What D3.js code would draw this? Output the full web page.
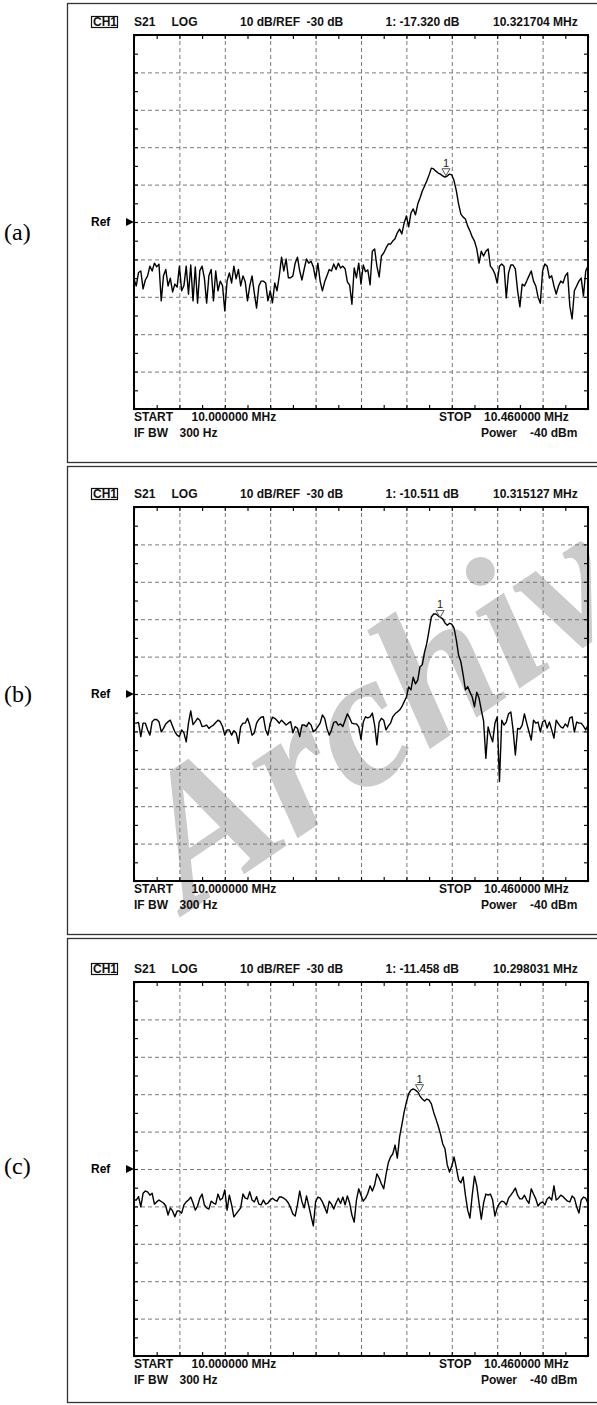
<!DOCTYPE html>
<html>
<head>
<meta charset="utf-8">
<script src="https://cdn.jsdelivr.net/npm/d3@7"></script>
<style>
  body { margin: 0; background: #fff; }
  svg text { font-family: "Liberation Sans", Arial, sans-serif; }
</style>
</head>
<body>
<div id="chart"></div>
<script>
var svgWidth = 597;
var svgHeight = 1405;

// sweep settings (same for all three panels)
var startMHz = 10.0, stopMHz = 10.46, nPoints = 201;
var refDb = -30, dbPerDiv = 10;

var panelLabels = ["(a)", "(b)", "(c)"];
var markerReadouts = ["1: -17.320 dB", "1: -10.511 dB", "1: -11.458 dB"];
var markerFreqTexts = ["10.321704 MHz", "10.315127 MHz", "10.298031 MHz"];
// where the marker triangles sit on the screen
var markerFreqs = [10.3161, 10.3101, 10.2893];
var markerDbs = [-17.9, -9.8, -9.6];

// S21 traces in dB, 201 sweep points each
var traceA = [
  -45.2, -47.1, -43.5, -43.1, -47.9, -45.5, -44.4, -41.8, -43.1, -41.0,
  -42.0, -41.3, -51.1, -44.4, -42.7, -47.1, -45.0, -48.7, -46.6, -47.4,
  -41.8, -48.4, -47.0, -41.8, -49.3, -41.5, -51.1, -42.0, -51.7, -43.0,
  -41.8, -45.0, -51.7, -44.4, -42.7, -51.1, -43.1, -48.4, -45.8, -47.0,
  -53.8, -45.8, -43.6, -46.3, -41.8, -45.2, -42.7, -47.1, -44.4, -46.0,
  -51.1, -47.1, -44.4, -49.0, -53.0, -47.1, -45.8, -45.8, -46.3, -51.1,
  -48.4, -51.6, -46.3, -48.4, -44.4, -39.4, -43.1, -39.9, -44.9, -44.9,
  -44.4, -41.0, -39.4, -43.1, -45.5, -42.5, -39.9, -41.0, -40.5, -42.0,
  -45.2, -41.0, -45.8, -48.4, -46.0, -44.4, -42.7, -43.1, -41.2, -42.7,
  -41.0, -42.3, -41.8, -42.5, -46.0, -46.9, -52.0, -42.3, -44.9, -41.0,
  -46.6, -41.5, -43.3, -42.8, -46.8, -37.8, -37.2, -41.8, -44.7, -39.1,
  -38.3, -37.0, -35.9, -35.9, -35.1, -34.5, -32.9, -31.9, -33.2, -30.3,
  -28.4, -31.3, -27.6, -26.5, -28.1, -25.2, -23.6, -21.7, -20.4, -19.0,
  -17.4, -15.6, -15.8, -16.4, -16.9, -17.2, -17.7, -18.0, -17.7, -17.2,
  -17.4, -19.0, -21.7, -25.2, -27.9, -28.7, -29.2, -31.1, -32.4, -34.0,
  -35.1, -37.2, -41.0, -37.8, -39.1, -37.8, -37.2, -41.8, -42.6, -43.9,
  -46.3, -41.8, -41.2, -41.8, -50.3, -43.6, -41.5, -41.5, -42.6, -48.4,
  -52.7, -46.6, -47.1, -45.8, -44.4, -43.1, -45.8, -47.1, -50.1, -51.7,
  -43.1, -41.2, -41.8, -45.0, -44.4, -47.1, -49.3, -47.1, -45.8, -46.3,
  -44.4, -43.6, -52.5, -55.9, -48.4, -47.1, -45.8, -45.0, -49.8, -43.1, -41.8
];

var traceB = [
  -37.8, -37.8, -37.6, -41.4, -37.8, -37.8, -39.6, -41.0, -37.4, -36.8,
  -36.8, -37.4, -40.1, -39.2, -38.0, -37.4, -37.0, -38.6, -40.1, -41.0,
  -41.4, -39.6, -40.4, -42.8, -37.8, -34.5, -38.2, -37.4, -36.5, -37.0,
  -38.7, -38.6, -38.3, -39.2, -38.7, -38.3, -37.6, -37.0, -37.4, -38.7,
  -41.0, -39.6, -39.6, -41.0, -39.8, -40.4, -43.2, -38.7, -37.8, -37.8,
  -36.5, -38.3, -41.0, -40.4, -37.8, -36.8, -36.2, -36.1, -39.6, -41.0,
  -37.8, -36.2, -36.5, -37.1, -37.8, -37.0, -37.6, -38.3, -37.8, -37.4,
  -40.4, -38.7, -39.2, -41.4, -38.3, -38.3, -38.7, -37.6, -38.3, -40.1,
  -39.6, -38.7, -37.8, -35.6, -36.5, -39.2, -41.0, -39.6, -37.6, -37.4,
  -38.3, -38.0, -38.7, -37.0, -35.3, -36.4, -37.8, -38.0, -38.0, -38.8,
  -42.1, -37.5, -36.1, -36.4, -36.1, -35.1, -38.3, -43.6, -37.5, -36.5,
  -37.0, -39.6, -38.6, -37.8, -36.1, -35.3, -34.8, -34.3, -33.4, -32.1,
  -30.8, -28.1, -28.9, -25.5, -27.3, -26.3, -22.7, -22.2, -18.8, -16.4,
  -12.9, -9.4, -8.6, -8.6, -9.1, -9.5, -9.9, -11.0, -11.6, -11.1,
  -11.3, -12.4, -15.6, -19.6, -21.4, -24.9, -28.9, -28.0, -29.5, -30.8,
  -33.4, -29.5, -31.1, -34.3, -37.2, -47.2, -38.8, -41.0, -42.8, -37.8,
  -36.1, -53.4, -37.0, -38.3, -37.5, -35.3, -34.8, -39.6, -46.3, -39.2,
  -39.4, -38.3, -35.3, -37.8, -40.1, -42.3, -37.0, -37.8, -37.5, -40.1,
  -37.5, -37.0, -39.1, -37.5, -39.6, -41.8, -37.0, -38.0, -38.8, -39.1,
  -38.0, -38.8, -36.4, -36.1, -40.2, -37.5, -37.8, -37.8, -38.6, -39.6, -38.3
];

var traceC = [
  -38.3, -38.3, -37.4, -40.1, -36.5, -35.9, -36.1, -37.0, -36.5, -39.4,
  -38.8, -38.3, -38.7, -39.1, -39.9, -42.3, -40.4, -41.2, -42.8, -41.2,
  -41.2, -41.8, -39.6, -38.8, -38.3, -37.5, -39.1, -41.0, -39.9, -37.8,
  -36.7, -39.6, -40.4, -40.7, -38.6, -39.1, -39.4, -36.7, -38.3, -37.8,
  -35.6, -41.0, -37.0, -39.6, -42.8, -42.0, -41.2, -40.4, -36.7, -37.8,
  -38.0, -36.1, -38.3, -38.8, -37.4, -39.4, -39.6, -38.3, -39.4, -39.1,
  -38.3, -37.8, -38.3, -38.6, -37.5, -37.5, -37.8, -38.3, -39.1, -40.4,
  -42.0, -42.6, -39.6, -35.9, -38.8, -40.4, -37.2, -39.9, -42.6, -45.2,
  -38.8, -37.5, -37.8, -38.8, -40.2, -41.8, -38.6, -39.4, -40.7, -39.1,
  -37.8, -39.2, -37.5, -39.6, -37.2, -39.1, -42.3, -44.2, -38.3, -35.3,
  -37.0, -38.6, -37.8, -36.5, -34.5, -35.9, -34.3, -31.3, -32.4, -34.0,
  -35.3, -31.6, -28.4, -26.8, -26.0, -23.6, -27.1, -21.4, -18.2, -14.8,
  -12.1, -9.9, -8.9, -8.6, -8.9, -9.4, -10.5, -11.3, -11.8, -11.3,
  -11.6, -12.6, -14.8, -16.6, -18.5, -20.6, -23.3, -24.6, -28.9, -30.8,
  -29.2, -26.8, -29.7, -32.9, -33.7, -32.1, -37.0, -41.0, -43.1, -37.0,
  -31.9, -34.5, -39.1, -43.4, -39.1, -36.7, -37.0, -36.7, -38.3, -42.6,
  -40.4, -39.2, -38.6, -38.8, -39.6, -37.8, -37.0, -36.1, -35.1, -37.0,
  -38.0, -38.0, -37.0, -38.3, -39.2, -35.3, -36.7, -38.0, -39.9, -39.1,
  -38.8, -39.6, -38.0, -37.5, -38.3, -34.5, -38.3, -37.8, -37.0, -37.4,
  -38.0, -38.6, -38.8, -37.2, -37.8, -40.1, -41.8, -38.3, -37.5, -37.8, -39.2
];

var traces = [traceA, traceB, traceC];

// frequency of each sweep point
var freqs = d3.range(nPoints).map(i => startMHz + i * (stopMHz - startMHz) / (nPoints - 1));

// layout
var plotLeft = 134, plotRight = 588, plotHeight = 374;
var panelTops = [35, 507, 982];
var boxTops = [3, 466, 938];
var boxBottoms = [462, 934, 1402];
var labelYs = [240, 702, 1174];

var svg = d3.select("#chart")
  .append("svg")
  .attr("width", svgWidth)
  .attr("height", svgHeight);

// faint watermark behind the screens
svg.append("text")
  .attr("transform", "translate(188,912) rotate(-34)")
  .style("font-family", "'Liberation Serif', 'Times New Roman', serif")
  .style("font-weight", "bold")
  .style("font-style", "italic")
  .attr("font-size", 192)
  .attr("fill", "#cbcbcb")
  .text("Archive");

var gridFreqs = d3.range(1, 10).map(k => startMHz + k * (stopMHz - startMHz) / 10);
var tickFreqs = d3.range(0, 21).map(k => startMHz + k * (stopMHz - startMHz) / 20);
var gridDbs = d3.range(1, 10).map(k => refDb - 5 * dbPerDiv + k * dbPerDiv);
var tickDbs = d3.range(0, 21).map(k => refDb - 5 * dbPerDiv + k * dbPerDiv / 2);

function noDomain(sel) { sel.select(".domain").remove(); }

function drawPanel(k) {
  var top = panelTops[k];
  var bottom = top + plotHeight;

  var x = d3.scaleLinear().domain([startMHz, stopMHz]).range([plotLeft, plotRight]);
  var y = d3.scaleLinear()
    .domain([refDb - 5 * dbPerDiv, refDb + 5 * dbPerDiv])
    .range([bottom, top]);

  var g = svg.append("g");

  // outer frame of the screen capture
  g.append("rect")
    .attr("x", 67.5)
    .attr("y", boxTops[k] + 0.5)
    .attr("width", 560)
    .attr("height", boxBottoms[k] - boxTops[k])
    .attr("fill", "none")
    .attr("stroke", "#333")
    .attr("stroke-width", 1.3);

  g.append("text").attr("x", 4).attr("y", labelYs[k])
    .style("font-family", "'Liberation Serif', 'Times New Roman', serif")
    .attr("font-size", 24)
    .text(panelLabels[k]);

  // header line
  var hy = top - 9;
  var header = g.append("g").attr("font-size", 12).attr("font-weight", "bold").attr("fill", "#111");
  header.append("rect").attr("x", 91.5).attr("y", hy - 9.5).attr("width", 26).attr("height", 11)
    .attr("fill", "none").attr("stroke", "#111").attr("stroke-width", 1.2);
  header.append("text").attr("x", 93).attr("y", hy).text("CH1");
  header.append("text").attr("x", 134).attr("y", hy).text("S21");
  header.append("text").attr("x", 171.5).attr("y", hy).text("LOG");
  header.append("text").attr("x", 240).attr("y", hy).text("10 dB/REF");
  header.append("text").attr("x", 306.5).attr("y", hy).text("-30 dB");
  header.append("text").attr("x", 385.5).attr("y", hy).text(markerReadouts[k]);
  header.append("text").attr("x", 493).attr("y", hy).text(markerFreqTexts[k]);

  // dashed graticule
  g.append("g")
    .attr("transform", `translate(0, ${bottom})`)
    .call(d3.axisBottom(x).tickValues(gridFreqs).tickSize(-plotHeight).tickFormat(""))
    .call(noDomain)
    .selectAll("line")
    .attr("stroke", "#7a7a7a")
    .attr("stroke-width", 1)
    .attr("stroke-dasharray", "4,3");

  g.append("g")
    .attr("transform", `translate(${plotLeft}, 0)`)
    .call(d3.axisLeft(y).tickValues(gridDbs).tickSize(-(plotRight - plotLeft)).tickFormat(""))
    .call(noDomain)
    .selectAll("line")
    .attr("stroke", "#7a7a7a")
    .attr("stroke-width", 1)
    .attr("stroke-dasharray", "4,3");

  // small inward ticks on the frame, every half division
  var tickAxes = [
    [d3.axisTop(x).tickValues(tickFreqs), `translate(0, ${top})`],
    [d3.axisBottom(x).tickValues(tickFreqs), `translate(0, ${bottom})`],
    [d3.axisLeft(y).tickValues(tickDbs), `translate(${plotLeft}, 0)`],
    [d3.axisRight(y).tickValues(tickDbs), `translate(${plotRight}, 0)`]
  ];
  tickAxes.forEach(function(t) {
    g.append("g")
      .attr("transform", t[1])
      .call(t[0].tickSize(-4).tickFormat(""))
      .call(noDomain)
      .selectAll("line")
      .attr("stroke", "#111")
      .attr("stroke-width", 1.2);
  });

  g.append("rect")
    .attr("x", plotLeft).attr("y", top)
    .attr("width", plotRight - plotLeft).attr("height", plotHeight)
    .attr("fill", "none")
    .attr("stroke", "#000")
    .attr("stroke-width", 2);

  // reference level arrow
  g.append("text").attr("x", 91).attr("y", y(refDb) + 4)
    .attr("font-size", 12).attr("font-weight", "bold").text("Ref");
  g.append("path")
    .attr("d", `M${plotLeft - 8},${y(refDb) - 4}L${plotLeft},${y(refDb)}L${plotLeft - 8},${y(refDb) + 4}Z`)
    .attr("fill", "#000");

  // trace
  var line = d3.line()
    .x((d, i) => x(freqs[i]))
    .y(d => y(d));

  g.append("path")
    .datum(traces[k])
    .attr("d", line)
    .attr("fill", "none")
    .attr("stroke", "#000")
    .attr("stroke-width", 1.4)
    .attr("stroke-linejoin", "round");

  // marker 1
  var mx = x(markerFreqs[k]), my = y(markerDbs[k]) - 1;
  g.append("path")
    .attr("d", `M${mx},${my}L${mx - 4},${my - 7}L${mx + 4},${my - 7}Z`)
    .attr("fill", "#fff")
    .attr("stroke", "#555")
    .attr("stroke-width", 1);
  g.append("text").attr("x", mx).attr("y", my - 9)
    .attr("text-anchor", "middle").attr("font-size", 11).attr("fill", "#222")
    .text("1");

  // footer lines
  var footer = g.append("g").attr("font-size", 12).attr("font-weight", "bold").attr("fill", "#111");
  footer.append("text").attr("x", 134).attr("y", bottom + 12).text("START");
  footer.append("text").attr("x", 191.5).attr("y", bottom + 12).text("10.000000 MHz");
  footer.append("text").attr("x", 439).attr("y", bottom + 12).text("STOP");
  footer.append("text").attr("x", 484).attr("y", bottom + 12).text("10.460000 MHz");
  footer.append("text").attr("x", 134).attr("y", bottom + 28).text("IF BW");
  footer.append("text").attr("x", 179.5).attr("y", bottom + 28).text("300 Hz");
  footer.append("text").attr("x", 481).attr("y", bottom + 28).text("Power");
  footer.append("text").attr("x", 530).attr("y", bottom + 28).text("-40 dBm");
}

[0, 1, 2].forEach(drawPanel);
</script>
</body>
</html>
